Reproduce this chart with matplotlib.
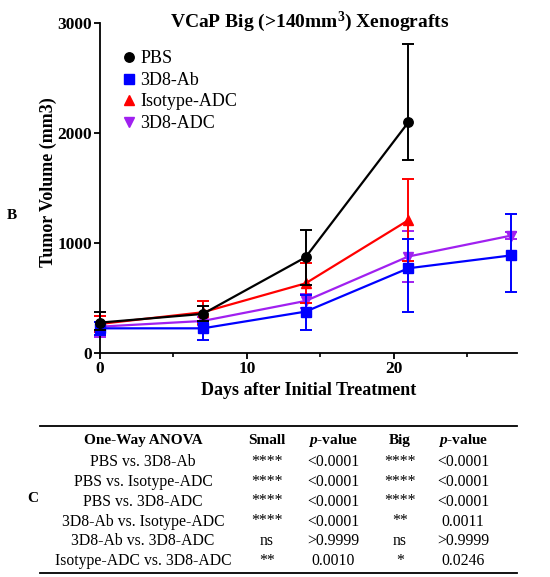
import matplotlib
matplotlib.use("Agg")
import matplotlib.pyplot as plt
from matplotlib.lines import Line2D

plt.rcParams['font.family'] = ['Liberation Serif', 'DejaVu Serif']
plt.rcParams['mathtext.fontset'] = 'custom'
plt.rcParams['mathtext.rm'] = 'Liberation Serif'
plt.rcParams['mathtext.bf'] = 'Liberation Serif:bold'
plt.rcParams['mathtext.it'] = 'Liberation Serif:italic'
plt.rcParams['mathtext.bfit'] = 'Liberation Serif:italic:bold'

days = [0, 7, 14, 21, 28]

pbs = [279, 358, 873, 2100]
pbs_up = [100, 72, 248, 709]
pbs_lo = [67, 60, 248, 342]

ab = [227, 227, 379, 773, 890]
ab_up = [60, 60, 150, 266, 374]
ab_lo = [60, 106, 167, 395, 330]

iso = [267, 373, 636, 1210]
iso_up = [70, 106, 182, 372]
iso_lo = [70, 106, 180, 372]

adc = [242, 294, 476, 880, 1070]
adc_up = [97, 40, 60, 234, 30]
adc_lo = [97, 40, 60, 234, 30]

series = [
    ("3D8-ADC", adc, adc_lo, adc_up, "#a020f0", "v", 2),
    ("Isotype-ADC", iso, iso_lo, iso_up, "#ff0000", "^", 3),
    ("3D8-Ab", ab, ab_lo, ab_up, "#0000ff", "s", 4),
    ("PBS", pbs, pbs_lo, pbs_up, "#000000", "o", 5),
]
legend_order = ["PBS", "3D8-Ab", "Isotype-ADC", "3D8-ADC"]

rows = ["PBS vs. 3D8-Ab", "PBS vs. Isotype-ADC", "PBS vs. 3D8-ADC",
        "3D8-Ab vs. Isotype-ADC", "3D8-Ab vs. 3D8-ADC", "Isotype-ADC vs. 3D8-ADC"]
small_sig = ["****", "****", "****", "****", "ns", "**"]
small_p = ["<0.0001", "<0.0001", "<0.0001", "<0.0001", ">0.9999", "0.0010"]
big_sig = ["****", "****", "****", "**", "ns", "*"]
big_p = ["<0.0001", "<0.0001", "<0.0001", "0.0011", ">0.9999", "0.0246"]

W, H = 550, 577
fig = plt.figure(figsize=(W / 100, H / 100), dpi=100)
fig.patch.set_facecolor("white")

def fx(px):
    return px / W

def fy(py):
    return 1 - py / H

ax = fig.add_axes([fx(100), fy(353.3), fx(517) - fx(100), fy(23.3) - fy(353.3)])

handles = {}
for name, vals, lo, up, col, mk, z in series:
    x = days[:len(vals)]
    ax.errorbar(x, vals, yerr=[lo, up], color=col, marker=mk, markersize=6.8,
                linewidth=1.6, elinewidth=1.4, capsize=4, capthick=1.4,
                zorder=z, clip_on=False)
    handles[name] = Line2D([], [], color=col, marker=mk, linestyle="none", markersize=6.8)

ax.set_xlim(0, 28.4)
ax.set_ylim(0, 3000)
ax.set_xticks([0, 10, 20])
ax.set_xticks([5, 15, 25], minor=True)
ax.set_yticks([0, 1000, 2000, 3000])
for s in ["top", "right"]:
    ax.spines[s].set_visible(False)
for s in ["left", "bottom"]:
    ax.spines[s].set_linewidth(1.3)
ax.tick_params(axis="both", which="major", direction="out", length=4, width=1.3,
               labelsize=12.5, pad=1.5)
ax.tick_params(axis="x", which="minor", direction="out", length=3, width=1.2)
for lab in ax.get_xticklabels() + ax.get_yticklabels():
    lab.set_fontweight("bold")

ax.set_xlabel("Days after Initial Treatment", fontsize=13, fontweight="bold", labelpad=4)
ax.set_ylabel("Tumor Volume (mm3)", fontsize=13, fontweight="bold")
ax.yaxis.set_label_coords(-0.102, 0.52)

fig.text(fx(310), fy(22), r"VCaP Big (>140mm$^\mathbf{3}$) Xenografts", fontsize=14,
         fontweight="bold", ha="center", va="center")

leg = ax.legend([handles[n] for n in legend_order], legend_order, loc="upper left",
                bbox_to_anchor=(0.04, 0.94), frameon=False, fontsize=13,
                handlelength=0.6, handletextpad=0.3, labelspacing=0.25, borderaxespad=0)

fig.text(fx(7), fy(216), "B", fontsize=11, fontweight="bold", ha="left", va="center")
fig.text(fx(27), fy(499), "C", fontsize=11, fontweight="bold", ha="left", va="center")

# table
fig.add_artist(Line2D([fx(40), fx(517)], [fy(425.7), fy(425.7)], color="black", linewidth=1.3))
fig.add_artist(Line2D([fx(40), fx(517)], [fy(572.7), fy(572.7)], color="black", linewidth=1.3))

cols_x = [143, 267, 333, 400, 463]
hy = fy(440.7)
headers = ["One-Way ANOVA", "Small", r"$\mathbfit{p}$-value", "Big", r"$\mathbfit{p}$-value"]
for cx, txt in zip(cols_x, headers):
    fig.text(fx(cx), hy, txt, fontsize=11, fontweight="bold", ha="center", va="center")

row_y = [462.3, 482, 501.5, 521.5, 541.3, 560.7]
for i, r in enumerate(rows):
    y = fy(row_y[i])
    for cx, txt in zip(cols_x, [r, small_sig[i], small_p[i], big_sig[i], big_p[i]]):
        fig.text(fx(cx), y, txt, fontsize=11.3, ha="center", va="center")

fig.savefig("out.png", dpi=100)
